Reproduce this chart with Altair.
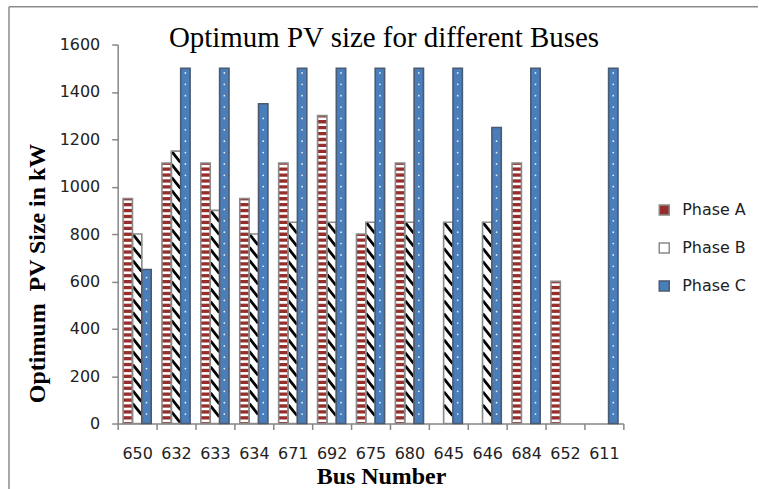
import altair as alt
import pandas as pd

# Optimum PV size (kW) per bus and phase; None = no PV on that phase
buses = ["650", "632", "633", "634", "671", "692", "675", "680", "645", "646", "684", "652", "611"]
phase_a = [950, 1100, 1100, 950, 1100, 1300, 800, 1100, None, None, 1100, 600, None]
phase_b = [800, 1150, 900, 800, 850, 850, 850, 850, 850, 850, None, None, None]
phase_c = [650, 1500, 1500, 1350, 1500, 1500, 1500, 1500, 1500, 1250, 1500, None, 1500]
phases = ["Phase A", "Phase B", "Phase C"]
y_ticks = [0, 200, 400, 600, 800, 1000, 1200, 1400, 1600]

rows = []
for name, series in zip(phases, [phase_a, phase_b, phase_c]):
    for bus, v in zip(buses, series):
        if v is not None:
            rows.append({"bus": bus, "phase": name, "value": v})
bars_df = pd.DataFrame(rows)

# fill patterns, derived from each bar's value
stripe_rows, hatch_rows, dot_rows = [], [], []
for r in rows:
    v = r["value"]
    if r["phase"] == "Phase A":
        k = 0
        while k * 25 + 18 <= v:
            stripe_rows.append({"bus": r["bus"], "phase": r["phase"], "y0": k * 25 + 6, "y1": k * 25 + 17})
            k += 1
    elif r["phase"] == "Phase B":
        c = v - 24
        while c - 22 >= 0:
            hatch_rows.append({"bus": r["bus"], "phase": r["phase"], "yc": c})
            c -= 55
    else:
        c = 40
        while c + 20 <= v:
            dot_rows.append({"bus": r["bus"], "phase": r["phase"], "yc": c})
            c += 48
stripes_df = pd.DataFrame(stripe_rows)
hatch_df = pd.DataFrame(hatch_rows)
dots_df = pd.DataFrame(dot_rows)

W, H = 507, 380
label_font = "DejaVu Sans"
serif = "Liberation Serif"
axis_grey = "#868686"

x_enc = alt.X(
    "bus:N",
    sort=buses,
    scale=alt.Scale(domain=buses, paddingInner=0, paddingOuter=0),
    axis=alt.Axis(
        title="Bus Number", titleFont=serif, titleFontSize=24, titleFontWeight="bold",
        titleColor="black", titleX=264, titleY=60, titleBaseline="alphabetic",
        titleAlign="center", labelAngle=0, labelFont=label_font, labelFontSize=16,
        labelColor="#222222", labelPadding=16, tickBand="extent", tickSize=6,
        tickColor=axis_grey, domainColor=axis_grey, domainWidth=1.5, tickWidth=1.5,
        grid=False,
    ),
)
xo_enc = alt.XOffset(
    "phase:N", scale=alt.Scale(domain=phases, paddingInner=0, paddingOuter=0.575)
)
y_axis = alt.Axis(
    title="Optimum\u00a0 PV Size in kW", titleFont=serif, titleFontSize=24,
    titleFontWeight="bold", titleColor="black", titleX=-73, titleY=229,
    titleAngle=270, titleBaseline="alphabetic", titleAlign="center",
    values=y_ticks, format="d", labelFont=label_font, labelFontSize=16,
    labelColor="#222222", labelPadding=12, tickSize=6, tickColor=axis_grey,
    domainColor=axis_grey, domainWidth=1.5, tickWidth=1.5, grid=False,
)
y_scale = alt.Scale(domain=[0, 1600], nice=False)

fill_scale = alt.Scale(domain=phases, range=["#962f2c", "#ffffff", "#4a7ebb"])
stroke_scale = alt.Scale(domain=phases, range=["#8a8a8a", "#8a8a8a", "#4a5a70"])

bars = alt.Chart(bars_df).mark_bar(strokeWidth=0).encode(
    x=x_enc,
    xOffset=xo_enc,
    y=alt.Y("value:Q", scale=y_scale, axis=y_axis),
    fill=alt.Fill(
        "phase:N", scale=fill_scale,
        legend=alt.Legend(
            title=None, orient="none", legendX=540, legendY=158,
            symbolType="square", symbolSize=100, symbolStrokeColor="#7a7a7a",
            symbolStrokeWidth=1.5, symbolOpacity=1, labelFont=label_font,
            labelFontSize=16, labelColor="#222222", labelOffset=10, rowPadding=22,
        ),
    ),
)

stripes = alt.Chart(stripes_df).mark_bar(color="white", strokeWidth=0).encode(
    x=x_enc, xOffset=xo_enc,
    y=alt.Y("y0:Q", scale=y_scale, axis=y_axis), y2="y1:Q",
)

# diagonal hatch strokes; the path spans about one bar width
hatch = alt.Chart(hatch_df).mark_point(
    shape="M -0.8 -1 L 0.8 1", filled=False, stroke="black", strokeWidth=2.8,
    size=121, opacity=1, strokeCap="butt",
).encode(x=x_enc, xOffset=xo_enc, y=alt.Y("yc:Q", scale=y_scale, axis=y_axis))

dots = alt.Chart(dots_df).mark_point(
    shape="circle", filled=True, color="white", size=3, opacity=0.9,
).encode(x=x_enc, xOffset=xo_enc, y=alt.Y("yc:Q", scale=y_scale, axis=y_axis))

outline = alt.Chart(bars_df).mark_bar(fillOpacity=0, strokeWidth=1.6).encode(
    x=x_enc, xOffset=xo_enc,
    y=alt.Y("value:Q", scale=y_scale, axis=y_axis),
    stroke=alt.Stroke("phase:N", scale=stroke_scale, legend=None),
)

one = pd.DataFrame({"k": [0]})
frame_left = alt.Chart(one).mark_rule(color="#8c8c8c", strokeWidth=1.5).encode(
    x=alt.value(-109), y=alt.value(-38), y2=alt.value(446)
)
frame_top = alt.Chart(one).mark_rule(color="#8c8c8c", strokeWidth=1.5).encode(
    x=alt.value(-109), x2=alt.value(642), y=alt.value(-38)
)
title = alt.Chart(one).mark_text(
    font=serif, fontSize=29, color="black", align="center", baseline="alphabetic"
).encode(x=alt.value(267), y=alt.value(2), text=alt.value("Optimum PV size for different Buses"))

chart = alt.layer(
    bars, stripes, hatch, dots, outline, frame_left, frame_top, title
).properties(
    width=W, height=H,
    padding={"left": 8, "top": 5, "right": 0, "bottom": 0},
    background="white",
).configure_view(stroke=None)

chart.save("out.html", embed_options={"renderer": "svg", "actions": False})
